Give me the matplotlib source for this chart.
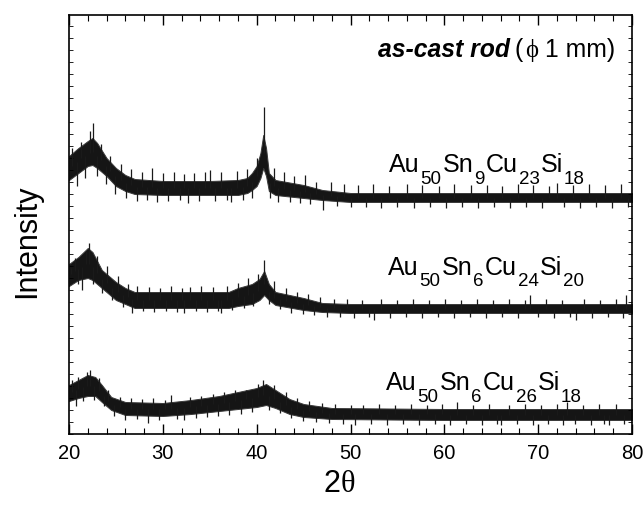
import numpy as np
import matplotlib.pyplot as plt
from matplotlib.ticker import MultipleLocator

plt.rcParams['font.family'] = ['Liberation Sans', 'DejaVu Sans']

W, H = 643, 505

# --- data (2theta, lower / upper edge of the dense band) ---
# top pattern: Au50Sn9Cu23Si18
tt1 = [20, 21, 22, 22.5, 23, 24, 25, 26, 27, 30, 35, 38, 39, 39.5, 40, 40.4, 40.7, 41.0, 41.3, 42, 45, 47, 50, 60, 70, 80]
lo1 = [254, 261, 268, 269, 266, 258, 248, 243, 240, 239, 239, 239, 241, 244, 248, 256, 266, 258, 243, 239, 236, 234, 232, 232, 232, 232]
up1 = [278, 286, 293, 296, 291, 276, 266, 259, 255, 253, 253, 254, 256, 261, 268, 281, 299, 286, 261, 254, 249, 244, 241, 241, 241, 241]
# single-count spikes sticking out of the band (2theta, tip)
sx1 = [20.3, 20.8, 21.3, 21.7, 22.2, 22.6, 23.0, 23.4, 23.9, 24.4, 24.9, 25.5, 26.1, 26.6, 27.2, 27.8,
       28.3, 28.8, 29.4, 30.0, 30.6, 31.2, 31.8, 32.3, 32.7, 33.3, 33.9, 34.5, 35.0, 35.6, 36.2, 36.8,
       37.3, 37.9, 38.5, 39.0, 39.5, 40.0, 40.75, 41.4, 41.8, 42.3, 42.9, 43.5, 44.0, 44.6, 45.1, 45.7,
       46.3, 47.05, 47.9, 48.6, 49.3, 50.0, 50.8, 51.6, 52.4, 53.3, 54.1, 55.0, 56.0, 56.8, 57.6, 58.5,
       59.4, 60.2, 61.0, 61.9, 62.8, 63.6, 64.5, 65.3, 66.1, 67.0, 67.9, 68.7, 69.5, 70.4, 71.2, 72.0,
       72.8, 73.7, 74.5, 75.4, 76.2, 77.1, 77.9, 78.8, 79.6]
sy1 = [286, 248, 292, 256, 303, 311, 258, 290, 250, 278, 240, 270, 236, 265, 233, 262,
       234, 266, 232, 261, 233, 262, 234, 260, 231, 261, 233, 262, 264, 233, 262, 234,
       232, 263, 234, 265, 236, 276, 327, 236, 266, 232, 262, 232, 258, 231, 259, 230,
       252, 224, 252, 228, 250, 227, 249, 227, 250, 226, 248, 227, 250, 226, 249, 227,
       248, 226, 250, 227, 249, 226, 249, 227, 248, 226, 250, 227, 249, 226, 248, 251,
       227, 249, 226, 250, 227, 249, 226, 250, 227]

# middle pattern: Au50Sn6Cu24Si20
tt2 = [20, 21, 22, 22.5, 23.5, 25, 26, 27, 37, 38, 39.5, 40.3, 40.8, 41.3, 42, 45, 47, 50, 60, 70, 80]
lo2 = [148, 154, 156, 154, 146, 134, 130, 126, 126, 128, 130, 134, 139, 134, 129, 124, 122, 121, 121, 121, 121]
up2 = [170, 177, 186, 182, 164, 152, 146, 142, 142, 146, 150, 155, 163, 150, 142, 136, 131, 130, 130, 130, 130]
sx2 = [20.2, 20.6, 21.0, 21.35, 21.8, 22.1, 22.6, 23.0, 23.5, 24.0, 24.6, 25.2, 25.8, 26.3, 26.7, 27.3,
       27.9, 28.5, 29.1, 29.7, 30.3, 30.9, 31.5, 32.0, 32.3, 32.9, 33.5, 34.1, 34.7, 35.3, 35.9, 36.2,
       36.8, 37.4, 38.0, 38.6, 39.1, 39.6, 40.1, 40.75, 41.3, 41.9, 42.5, 43.1, 43.7, 44.3, 44.9, 45.5,
       46.1, 46.8, 47.5, 48.2, 48.9, 49.6, 50.4, 51.2, 52.0, 52.5, 53.3, 54.2, 55.0, 55.9, 56.7, 57.6,
       58.4, 59.3, 60.1, 61.0, 61.8, 62.7, 63.5, 64.4, 65.2, 66.1, 66.9, 67.8, 68.6, 69.1, 70.0, 70.8,
       71.7, 72.5, 73.4, 74.0, 74.9, 75.7, 76.6, 77.4, 78.3, 79.0, 79.4]
sy2 = [166, 176, 150, 144, 183, 191, 150, 178, 141, 168, 134, 158, 127, 150, 121, 148,
       123, 147, 122, 146, 123, 148, 122, 146, 121, 147, 123, 148, 122, 147, 123, 121,
       148, 124, 151, 126, 156, 128, 160, 174, 130, 153, 125, 146, 121, 142, 120, 140,
       119, 137, 117, 135, 117, 135, 116, 134, 117, 114, 135, 116, 134, 117, 135, 116,
       134, 117, 135, 116, 134, 117, 135, 116, 134, 117, 135, 116, 134, 139, 117, 135,
       116, 134, 117, 114, 135, 116, 134, 117, 135, 116, 139]

# bottom pattern: Au50Sn6Cu26Si18
tt3 = [20, 21, 22, 22.8, 23.5, 24.5, 26, 30, 33, 36, 38, 40, 41, 42, 43.5, 45, 48, 60, 80]
lo3 = [33, 36, 38, 38, 32, 24, 19, 18, 20, 23, 25, 27, 29, 26, 20, 17, 15, 14, 14]
up3 = [49, 54, 59, 57, 49, 37, 32, 31, 34, 38, 42, 46, 50, 44, 35, 30, 26, 25, 25]
sx3 = [20.3, 20.7, 21.0, 21.5, 21.9, 22.2, 22.7, 23.2, 23.7, 24.2, 24.8, 25.4, 26.0, 26.6, 27.2, 27.8,
       28.4, 29.0, 29.6, 30.2, 30.9, 31.5, 32.3, 32.9, 33.5, 34.1, 34.7, 35.3, 35.9, 36.5, 37.1, 37.7,
       38.3, 38.9, 39.5, 40.1, 40.7, 41.3, 41.9, 42.5, 43.1, 43.7, 44.3, 44.9, 45.6, 46.3, 47.0, 47.7,
       48.4, 49.2, 50.0, 50.5, 51.3, 52.2, 53.0, 53.9, 54.7, 55.6, 56.4, 57.3, 58.1, 59.0, 59.8, 60.6,
       61.4, 62.3, 63.1, 64.0, 64.8, 65.6, 66.0, 66.9, 67.7, 68.6, 69.4, 70.3, 71.1, 72.0, 72.6, 73.1,
       73.9, 74.8, 75.6, 76.5, 77.0, 77.5, 78.3, 79.2]
sy3 = [54, 28, 57, 33, 62, 64, 34, 56, 28, 44, 18, 37, 14, 36, 15, 35,
       11, 36, 14, 34, 39, 15, 14, 37, 16, 38, 17, 40, 18, 42, 19, 44,
       20, 44, 22, 50, 54, 24, 49, 21, 42, 16, 36, 13, 33, 12, 31, 11,
       30, 10, 29, 9, 29, 10, 30, 9, 29, 10, 30, 9, 29, 10, 30, 9,
       32, 10, 29, 9, 30, 10, 9, 29, 10, 30, 9, 29, 10, 30, 9, 32,
       10, 29, 9, 30, 10, 9, 30, 10]

labels = [[('Au', 0), ('50', 1), ('Sn', 0), ('9', 1), ('Cu', 0), ('23', 1), ('Si', 0), ('18', 1)],
          [('Au', 0), ('50', 1), ('Sn', 0), ('6', 1), ('Cu', 0), ('24', 1), ('Si', 0), ('20', 1)],
          [('Au', 0), ('50', 1), ('Sn', 0), ('6', 1), ('Cu', 0), ('26', 1), ('Si', 0), ('18', 1)]]
label_px = [(388, 172), (387, 275), (385, 390)]   # left edge, baseline (pixels)

fig = plt.figure(figsize=(W/100, H/100), dpi=100)
ax = fig.add_axes([69/W, 1-434/H, (632-69)/W, (434-15)/H])

for tt, lo, up, sx, sy in [(tt1, lo1, up1, sx1, sy1),
                           (tt2, lo2, up2, sx2, sy2),
                           (tt3, lo3, up3, sx3, sy3)]:
    ax.fill_between(tt, lo, up, facecolor='#151515', edgecolor='#3a3a3a', lw=0.7)
    mid = np.interp(sx, tt, (np.array(lo) + np.array(up)) / 2)
    ax.vlines(sx, mid, sy, color='#1a1a1a', lw=0.9)

ax.set_xlim(20, 80)
ax.set_ylim(0, 419)
ax.xaxis.set_major_locator(MultipleLocator(10))
ax.xaxis.set_minor_locator(MultipleLocator(2))
ax.yaxis.set_major_locator(MultipleLocator(12))
ax.tick_params(axis='both', which='both', direction='in', top=True, right=True)
ax.tick_params(axis='x', which='major', length=7, width=1, labelsize=14.5, pad=7)
ax.tick_params(axis='x', which='minor', length=4, width=0.8)
ax.tick_params(axis='y', which='major', length=3, width=0.6, labelleft=False)
for sp in ax.spines.values():
    sp.set_linewidth(1.2)

# y label and 2theta label
fig.text(27/W, 1-241/H, 'Intensity', rotation=90, fontsize=22, ha='center', va='center')
fig.text(340/W, 1-484/H, '2', fontsize=22, ha='right', va='center')
fig.text(341/W, 1-484/H, 'θ', fontsize=22, ha='left', va='center', family='Liberation Serif')

fig.canvas.draw()
r = fig.canvas.get_renderer()

# composition labels with hand-placed subscripts
for parts, (x0, yb) in zip(labels, label_px):
    x = x0
    for s, sub in parts:
        if sub:
            t = fig.text((x + 1)/W, 1-(yb + 11.5)/H, s, fontsize=13.5, ha='left', va='baseline')
        else:
            t = fig.text((x + 1)/W, 1-yb/H, s, fontsize=18, ha='left', va='baseline')
        x = t.get_window_extent(r).x1

# header: "as-cast rod (phi 1 mm)", built right to left
pieces = [('as-cast rod', dict(fontweight='bold', fontstyle='italic'), 5),
          ('(', dict(), 2),
          ('ϕ', dict(family='Liberation Serif'), 7),
          ('1 mm)', dict(), 0)]
xr = 615
for s, kw, gap in reversed(pieces):
    t = fig.text((xr - gap)/W, 1-50/H, s, fontsize=17.8, ha='right', va='center', **kw)
    xr = t.get_window_extent(r).x0

fig.savefig('out.png', dpi=100)
